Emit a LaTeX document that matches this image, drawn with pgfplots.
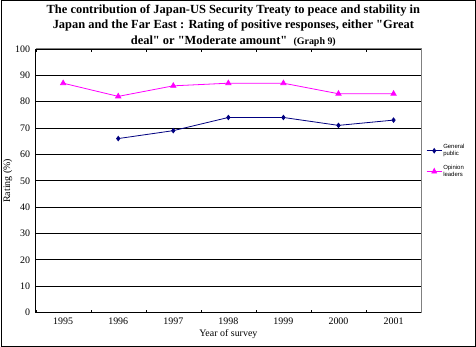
\documentclass[border=0pt]{standalone}
\usepackage{pgfplots}
\pgfplotsset{compat=1.18}
\usepackage{fontspec}
\setmainfont{Liberation Serif}
\newfontfamily\titlefont{Liberation Serif}[Ligatures=TeXOff]
\newfontfamily\arial{Liberation Sans}
\definecolor{navyc}{HTML}{000080}
\definecolor{magc}{HTML}{FF00FF}
\begin{document}
\begin{tikzpicture}[x=1bp,y=1bp]
\begin{axis}[
  at={(0,0)}, anchor=south west,
  scale only axis, width=386bp, height=264bp,
  xmin=-0.5, xmax=6.5, ymin=0, ymax=100,
  xtick={0,...,6},
  xticklabels={1995,1996,1997,1998,1999,2000,2001},
  major x tick style={draw=none},
  minor xtick={-0.5,0.5,...,6.5},
  minor x tick style={black},
  minor tick length=3bp,
  ytick={0,10,...,100},
  ymajorgrids, grid style={black, line width=0.8bp},
  major y tick style={draw=none},
  axis line style={draw=none},
  tick label style={font=\fontsize{10}{12}\selectfont},
  /pgf/number format/assume math mode=true,
  yticklabel style={xshift=-2bp},
  xticklabel style={yshift=-2bp},
  xlabel={Year of survey},
  ylabel={Rating (\%)},
  label style={font=\fontsize{10}{12}\selectfont},
  xlabel style={yshift=2bp},
  ylabel style={yshift=-4bp},
  clip=false,
  legend cell align=left,
  legend style={draw=none, fill=none, font=\arial\fontsize{6}{7}\selectfont,
    at={(rel axis cs:1.005,0.65)}, anchor=north west,
    nodes={align=left, inner sep=1bp}, row sep=6bp},
  legend image post style={xscale=0.9},
]
\draw[black, line width=1bp] (rel axis cs:0,0) -- (rel axis cs:1,0);
\draw[black, line width=1bp] (rel axis cs:0,0) -- (rel axis cs:0,1);
\draw[gray, line width=1bp] (rel axis cs:0,1) -- (rel axis cs:1,1) -- (rel axis cs:1,0);
\addplot[navyc, line width=0.8bp, mark=diamond*, mark size=2.2bp, mark options={fill=navyc}]
  coordinates {(1,66) (2,69) (3,74) (4,74) (5,71) (6,73)};
\addlegendentry{General\\public}
\addplot[magc, line width=0.8bp, mark=triangle*, mark size=3bp, mark options={fill=magc}]
  coordinates {(0,87) (1,82) (2,86) (3,87) (4,87) (5,83) (6,83)};
\addlegendentry{Opinion\\leaders}
\end{axis}
\draw[black, line width=1bp] (-34.5,-33.5) rectangle (440.5,312.5);
\node[align=center, font=\titlefont\bfseries\fontsize{12.5}{15.5}\selectfont, inner sep=0pt] at (198,287.5)
  {The contribution of Japan-US Security Treaty to peace and stability in\\
   Japan and the Far East : Rating of positive responses, either "Great\\
   deal" or "Moderate amount" \ {\fontsize{10}{12}\selectfont(Graph 9)}};
\end{tikzpicture}
\end{document}
